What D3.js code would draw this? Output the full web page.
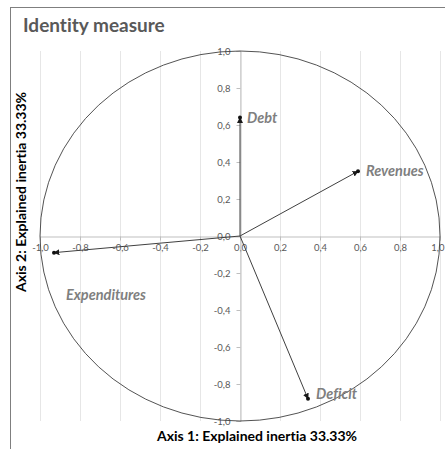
<!DOCTYPE html>
<html>
<head>
<meta charset="utf-8">
<script src="https://cdn.jsdelivr.net/npm/d3@7"></script>
<style>
  body { margin: 0; background: #fff; }
  svg { display: block; }
  text { font-variant-ligatures: none; }
</style>
</head>
<body>
<div id="chart"></div>
<script>
// variables
var names = ["Debt", "Revenues", "Deficit", "Expenditures"];
var axis1 = [0.00, 0.59, 0.34, -0.93];
var axis2 = [0.64, 0.35, -0.88, -0.09];
var tickValues = [-1, -0.8, -0.6, -0.4, -0.2, 0, 0.2, 0.4, 0.6, 0.8, 1];

var chartTitle = "Identity measure";
var xTitle = "Axis 1: Explained inertia 33.33%";
var yTitle = "Axis 2: Explained inertia 33.33%";

function biplot() {
  var width = 445,
      height = 449;

  var svg = d3.select("#chart")
              .append("svg")
              .attr("width", width)
              .attr("height", height);

  // chart frame (right and bottom run off the picture)
  svg.append("rect")
     .attr("x", 10.5).attr("y", 7.5)
     .attr("width", 600).attr("height", 600)
     .attr("fill", "none")
     .attr("stroke", "#7f7f7f");

  var x = d3.scaleLinear().domain([-1, 1]).range([40, 440]);
  var y = d3.scaleLinear().domain([-1, 1]).range([421, 51]);

  // vertical gridlines
  svg.append("g")
     .selectAll("line")
     .data(tickValues)
     .enter().append("line")
     .attr("x1", function(d) { return Math.round(x(d)) + 0.5; })
     .attr("x2", function(d) { return Math.round(x(d)) + 0.5; })
     .attr("y1", y(1)).attr("y2", y(-1))
     .attr("stroke", "#e6e6e6");

  var fmt = function(d) { return d3.format(".1f")(d).replace(".", ",").replace("−", "-"); };

  // horizontal axis through y = 0
  var xAxis = svg.append("g")
     .attr("transform", "translate(0," + (Math.round(y(0)) + 0.5) + ")")
     .call(d3.axisBottom(x).tickValues(tickValues).tickSize(4).tickPadding(4).tickFormat(fmt));

  // vertical axis through x = 0
  var yAxis = svg.append("g")
     .attr("transform", "translate(" + (Math.round(x(0)) + 0.5) + ",0)")
     .call(d3.axisLeft(y).tickValues(tickValues).tickSize(4).tickPadding(6).tickFormat(fmt));

  [xAxis, yAxis].forEach(function(a) {
    a.select(".domain").attr("stroke", "#bfbfbf");
    a.selectAll(".tick line").attr("stroke", "#bfbfbf");
    a.selectAll("text")
     .attr("fill", "#595959")
     .style("font-family", "Lato, 'Open Sans', sans-serif")
     .style("font-size", "9.5px");
  });
  // last label sits against the right edge
  xAxis.selectAll(".tick text")
       .filter(function(d) { return d === 1; })
       .attr("text-anchor", "end")
       .attr("x", 4);

  // unit circle
  svg.append("ellipse")
     .attr("cx", x(0)).attr("cy", y(0))
     .attr("rx", x(1) - x(0)).attr("ry", y(0) - y(1))
     .attr("fill", "none")
     .attr("stroke", "#404040")
     .attr("stroke-width", 0.9);

  svg.append("defs").append("marker")
     .attr("id", "arrow")
     .attr("viewBox", "0 0 10 10")
     .attr("refX", 9).attr("refY", 5)
     .attr("markerWidth", 6).attr("markerHeight", 6)
     .attr("markerUnits", "userSpaceOnUse")
     .attr("orient", "auto")
     .append("path")
     .attr("d", "M0,0L10,5L0,10z")
     .attr("fill", "#1a1a1a");

  var data = names.map(function(n, i) { return { name: n, x: axis1[i], y: axis2[i] }; });

  // arrows from origin
  svg.append("g")
     .selectAll("line")
     .data(data)
     .enter().append("line")
     .attr("x1", x(0)).attr("y1", y(0))
     .attr("x2", function(d) { return x(d.x); })
     .attr("y2", function(d) { return y(d.y); })
     .attr("stroke", "#404040")
     .attr("stroke-width", 1)
     .attr("marker-end", "url(#arrow)");

  // points
  svg.append("g")
     .selectAll("circle")
     .data(data)
     .enter().append("circle")
     .attr("cx", function(d) { return x(d.x); })
     .attr("cy", function(d) { return y(d.y); })
     .attr("r", 2)
     .attr("fill", "#111");

  // label offsets, in pixels from each point
  var offset = {
    "Debt": [7, 5],
    "Revenues": [8, 5],
    "Deficit": [8, 0],
    "Expenditures": [12, 47]
  };

  svg.append("g")
     .selectAll("text")
     .data(data)
     .enter().append("text")
     .attr("x", function(d) { return x(d.x) + offset[d.name][0]; })
     .attr("y", function(d) { return y(d.y) + offset[d.name][1]; })
     .text(function(d) { return d.name; })
     .attr("fill", "#7f7f7f")
     .style("font-family", "Lato, 'Open Sans', sans-serif")
     .style("font-size", "14.5px")
     .style("font-weight", "bold")
     .style("font-style", "italic");

  // titles
  svg.append("text")
     .attr("x", 23).attr("y", 32)
     .text(chartTitle)
     .attr("fill", "#595959")
     .style("font-family", "Lato, 'Open Sans', sans-serif")
     .style("font-size", "19px")
     .style("font-weight", "bold");

  svg.append("text")
     .attr("x", 257).attr("y", 441)
     .attr("text-anchor", "middle")
     .text(xTitle)
     .attr("fill", "#000")
     .style("font-family", "Lato, 'Open Sans', sans-serif")
     .style("font-size", "14px")
     .style("font-weight", "bold");

  svg.append("text")
     .attr("transform", "translate(26,192) rotate(-90)")
     .attr("text-anchor", "middle")
     .text(yTitle)
     .attr("fill", "#000")
     .style("font-family", "Lato, 'Open Sans', sans-serif")
     .style("font-size", "14px")
     .style("font-weight", "bold");
}

biplot();
</script>
</body>
</html>
